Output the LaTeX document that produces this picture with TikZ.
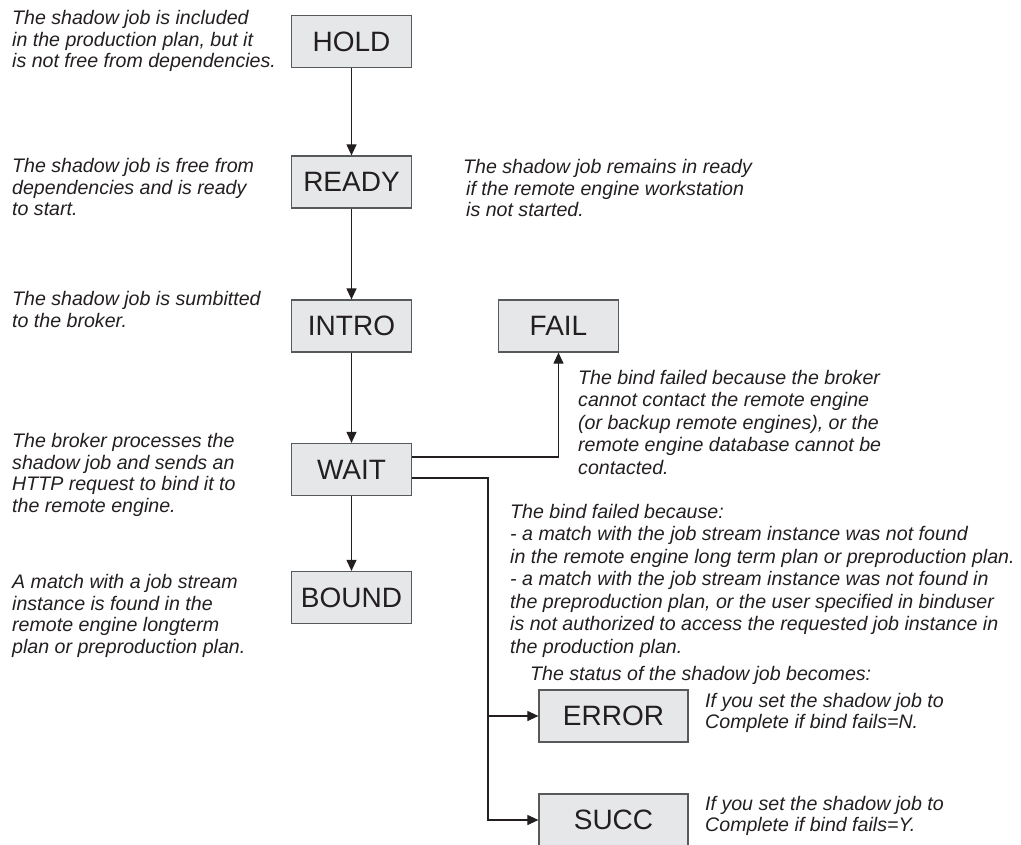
\documentclass[tikz,border=0pt]{standalone}
\usepackage{fontspec}
\setmainfont{Liberation Sans}
\usetikzlibrary{arrows.meta}
\definecolor{boxfill}{HTML}{E6E7E8}
\definecolor{boxline}{HTML}{58595B}
\definecolor{ink}{HTML}{231F20}
\begin{document}
\begin{tikzpicture}[x=1pt,y=-1pt,
  state/.style={draw=boxline, fill=boxfill, line width=1.2pt, minimum width=120pt, minimum height=52pt, inner sep=0pt, font=\fontsize{28}{30}\selectfont, text=ink},
  note/.style={anchor=north west, inner sep=0pt, align=left, font=\fontsize{19.6}{21.7}\selectfont\itshape, text=ink},
  conn/.style={draw=ink, line width=1.1pt, -{Triangle[length=11pt,width=10pt]}}]
\useasboundingbox (0,0) rectangle (1021,845);
% states
\node[state] (hold) at (351.5,41.5) {HOLD};
\node[state] (ready) at (351.5,182) {READY};
\node[state] (intro) at (351.5,326) {INTRO};
\node[state] (wait) at (351.5,469.5) {WAIT};
\node[state] (bound) at (351.5,597.5) {BOUND};
\node[state] (fail) at (558.5,326) {FAIL};
\node[state, minimum width=149pt] (error) at (613.5,716) {ERROR};
\node[state, minimum width=149pt] (succ) at (613.5,820) {SUCC};
% connectors
\draw[conn] (hold) -- (ready);
\draw[conn] (ready) -- (intro);
\draw[conn] (intro) -- (wait);
\draw[conn] (wait) -- (bound);
\draw[conn] ([yshift=12.5pt]wait.east) -| (fail.south);
\coordinate (split) at (488,716);
\draw[conn] ([yshift=-8.5pt]wait.east) -| (split) |- (succ.west);
\draw[conn] (split) -- (error.west);
% notes left
\node[note] (n1) at (12,10) {The shadow job is included\\in the production plan, but it\\is not free from dependencies.};
\node[note] (n2) at (12,158) {The shadow job is free from\\dependencies and is ready\\to start.};
\node[note] (n3) at (12,291) {The shadow job is sumbitted\\to the broker.};
\node[note] (n4) at (12,433) {The broker processes the\\shadow job and sends an\\HTTP request to bind it to\\the remote engine.};
\node[note] (n5) at (12,574) {A match with a job stream\\instance is found in the\\remote engine longterm\\plan or preproduction plan.};
% notes right
\node[note] (n6) at (463,159) {The shadow job remains in ready\\\hspace*{3pt}if the remote engine workstation\\\hspace*{3pt}is not started.};
\node[note, font=\fontsize{19.6}{22.5}\selectfont\itshape] (n7) at (578,370) {The bind failed because the broker\\cannot contact the remote engine\\(or backup remote engines), or the\\remote engine database cannot be\\contacted.};
\node[note, font=\fontsize{19.6}{22.5}\selectfont\itshape] (n8) at (510,504) {The bind failed because:\\- a match with the job stream instance was not found\\in the remote engine long term plan or preproduction plan.\\- a match with the job stream instance was not found in\\the preproduction plan, or the user specified in binduser\\is not authorized to access the requested job instance in\\the production plan.};
\node[note] (n9) at (530,666) {The status of the shadow job becomes:};
\node[note, font=\fontsize{19.6}{21}\selectfont\itshape] (n10) at (705,693) {If you set the shadow job to\\Complete if bind fails=N.};
\node[note, font=\fontsize{19.6}{21}\selectfont\itshape] (n11) at (705,796) {If you set the shadow job to\\Complete if bind fails=Y.};
\end{tikzpicture}
\end{document}
